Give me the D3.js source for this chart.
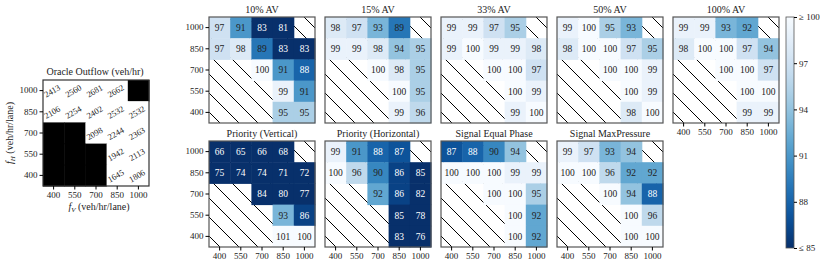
<!DOCTYPE html>
<html lang="en">
<head>
<meta charset="utf-8" />
<script src="https://d3js.org/d3.v7.min.js"></script>
<style>
    body { margin: 0; background: #fff; }
    text { font-family: "Liberation Serif", "DejaVu Serif", serif; fill: #222; }
</style>
</head>
<body>
<div id="chart"></div>
<script>
    // flows (veh/hr/lane)
    const fV = [400, 550, 700, 850, 1000];
    const fH = [1000, 850, 700, 550, 400];

    // oracle outflow, rows are fH (top to bottom), null = no data
    const oracle = [
        [2413, 2560, 2681, 2662, null],
        [2106, 2254, 2402, 2532, 2532],
        [null, null, 2098, 2244, 2363],
        [null, null, null, 1942, 2113],
        [null, null, null, 1645, 1806]
    ];

    // outflow as % of oracle
    const av10 = [[97, 91, 83, 81, null], [97, 98, 89, 83, 83], [null, null, 100, 91, 88], [null, null, null, 99, 91], [null, null, null, 95, 95]];
    const av15 = [[98, 97, 93, 89, null], [99, 99, 98, 94, 95], [null, null, 100, 98, 95], [null, null, null, 100, 95], [null, null, null, 99, 96]];
    const av33 = [[99, 99, 97, 95, null], [99, 100, 99, 99, 98], [null, null, 100, 100, 97], [null, null, null, 100, 99], [null, null, null, 99, 100]];
    const av50 = [[99, 100, 95, 93, null], [98, 100, 100, 97, 95], [null, null, 100, 100, 99], [null, null, null, 100, 99], [null, null, null, 98, 100]];
    const av100 = [[99, 99, 93, 92, null], [98, 100, 100, 97, 94], [null, null, 100, 100, 97], [null, null, null, 100, 100], [null, null, null, 99, 99]];
    const priorityV = [[66, 65, 66, 68, null], [75, 74, 74, 71, 72], [null, null, 84, 80, 77], [null, null, null, 93, 86], [null, null, null, 101, 100]];
    const priorityH = [[99, 91, 88, 87, null], [100, 96, 90, 86, 85], [null, null, 92, 86, 82], [null, null, null, 85, 78], [null, null, null, 83, 76]];
    const signalEqual = [[87, 88, 90, 94, null], [100, 100, 100, 99, 99], [null, null, 100, 100, 95], [null, null, null, 100, 92], [null, null, null, 100, 92]];
    const signalMaxP = [[99, 97, 93, 94, null], [100, 100, 96, 92, 92], [null, null, 100, 94, 88], [null, null, null, 100, 96], [null, null, null, 100, 100]];

    const panelTitles = ["10% AV", "15% AV", "33% AV", "50% AV", "100% AV",
        "Priority (Vertical)", "Priority (Horizontal)", "Signal Equal Phase", "Signal MaxPressure"];
    const panelValues = [av10, av15, av33, av50, av100, priorityV, priorityH, signalEqual, signalMaxP];
    const cbarTicks = [100, 97, 94, 91, 88, 85];

    const W = 830, H = 267;
    const size = 106,
        gridLeft = 209, gridStep = 116,
        rowTops = [17, 141];

    const svg = d3.select("#chart").append("svg")
        .attr("width", W).attr("height", H);

    // hatch for missing cells
    const hs = 19;
    svg.append("defs").append("pattern")
        .attr("id", "hatch")
        .attr("patternUnits", "userSpaceOnUse")
        .attr("width", hs).attr("height", hs)
        .append("path")
        .attr("d", `M-1,-1 L${hs + 1},${hs + 1} M${hs - 1},-1 L${hs + 1},1 M-1,${hs - 1} L1,${hs + 1}`)
        .attr("stroke", "#000").attr("stroke-width", 1);

    const x = d3.scaleBand().domain(fV).range([0, size]);
    const y = d3.scaleBand().domain(fH).range([0, size]);
    const color = v => d3.interpolateBlues(Math.max(0, Math.min(1, (100 - v) / 15)));

    function cellsOf(vals) {
        const out = [];
        vals.forEach((row, i) => row.forEach((v, j) => out.push({ h: fH[i], v: fV[j], val: v })));
        return out;
    }

    function drawAxes(g, showY, showX) {
        if (showY) {
            const ya = g.append("g").call(d3.axisLeft(y).tickSize(3.5).tickPadding(2));
            ya.select(".domain").remove();
            ya.selectAll("text").attr("font-size", 9).attr("font-family", "Liberation Serif");
        }
        if (showX) {
            const xa = g.append("g").attr("transform", `translate(0,${size})`)
                .call(d3.axisBottom(x).tickSize(3.5).tickPadding(2));
            xa.select(".domain").remove();
            xa.selectAll("text").attr("font-size", 9).attr("font-family", "Liberation Serif");
        }
    }

    // percentage panels
    panelValues.forEach((vals, k) => {
        const r = k < 5 ? 0 : 1, c = k < 5 ? k : k - 5;
        const g = svg.append("g")
            .attr("transform", `translate(${gridLeft + c * gridStep},${rowTops[r]})`);

        g.append("rect").attr("width", size).attr("height", size).attr("fill", "url(#hatch)");

        const cells = cellsOf(vals).filter(d => d.val !== null);
        g.selectAll("rect.cell").data(cells).enter().append("rect")
            .attr("class", "cell")
            .attr("x", d => x(d.v)).attr("y", d => y(d.h))
            .attr("width", x.bandwidth() + 0.5).attr("height", y.bandwidth() + 0.5)
            .attr("fill", d => color(d.val));

        g.selectAll("text.val").data(cells).enter().append("text")
            .attr("class", "val")
            .attr("x", d => x(d.v) + x.bandwidth() / 2)
            .attr("y", d => y(d.h) + y.bandwidth() / 2 + 3.3)
            .attr("text-anchor", "middle")
            .attr("font-size", 9.5)
            .style("fill", d => d.val < 89 ? "#fff" : "#222")
            .text(d => d.val);

        g.append("rect").attr("width", size).attr("height", size)
            .attr("fill", "none").attr("stroke", "#555").attr("stroke-width", 1.2);

        g.append("text").attr("x", size / 2).attr("y", -4)
            .attr("text-anchor", "middle").attr("font-size", 10)
            .text(panelTitles[k]);

        drawAxes(g, c === 0, r === 1 || k === 4);
    });

    // oracle panel
    const og = svg.append("g").attr("transform", "translate(43,80)");
    const ocells = cellsOf(oracle);
    og.selectAll("rect.cell").data(ocells).enter().append("rect")
        .attr("x", d => x(d.v)).attr("y", d => y(d.h))
        .attr("width", x.bandwidth() + 0.5).attr("height", y.bandwidth() + 0.5)
        .attr("fill", d => d.val === null ? "#000" : "#fff");
    og.selectAll("text.val").data(ocells.filter(d => d.val !== null)).enter().append("text")
        .attr("transform", d => `translate(${x(d.v) + x.bandwidth() / 2},${y(d.h) + y.bandwidth() / 2 + 3}) rotate(-30)`)
        .attr("text-anchor", "middle")
        .attr("font-size", 8.5)
        .text(d => d.val);
    og.append("rect").attr("width", size).attr("height", size)
        .attr("fill", "none").attr("stroke", "#333").attr("stroke-width", 1.2);
    og.append("text").attr("x", size / 2 - 1).attr("y", -5)
        .attr("text-anchor", "middle").attr("font-size", 10)
        .text("Oracle Outflow (veh/hr)");
    drawAxes(og, true, true);

    const xl = og.append("text").attr("x", size / 2 + 3).attr("y", size + 24)
        .attr("text-anchor", "middle").attr("font-size", 10);
    xl.append("tspan").attr("font-style", "italic").text("f");
    xl.append("tspan").attr("font-size", 7).attr("font-style", "italic").attr("dy", 2).text("V");
    xl.append("tspan").attr("dy", -2).text(" (veh/hr/lane)");

    const yl = svg.append("text")
        .attr("transform", "translate(13,133) rotate(-90)")
        .attr("text-anchor", "middle").attr("font-size", 10);
    yl.append("tspan").attr("font-style", "italic").text("f");
    yl.append("tspan").attr("font-size", 7).attr("font-style", "italic").attr("dy", 2).text("H");
    yl.append("tspan").attr("dy", -2).text(" (veh/hr/lane)");

    // colorbar
    const cbX = 786, cbW = 8, cbTop = 17, cbBot = 248;
    const cy = d3.scaleLinear().domain([100, 85]).range([cbTop, cbBot]);
    const grad = svg.select("defs").append("linearGradient")
        .attr("id", "cbgrad").attr("x1", 0).attr("x2", 0).attr("y1", 0).attr("y2", 1);
    d3.range(0, 1.0001, 0.05).forEach(t => {
        grad.append("stop").attr("offset", t).attr("stop-color", color(100 - 15 * t));
    });
    svg.append("rect").attr("x", cbX).attr("y", cbTop)
        .attr("width", cbW).attr("height", cbBot - cbTop)
        .attr("fill", "url(#cbgrad)").attr("stroke", "#555").attr("stroke-width", 0.8);
    const cba = svg.append("g").attr("transform", `translate(${cbX + cbW},0)`)
        .call(d3.axisRight(cy).tickValues(cbarTicks).tickSize(3).tickPadding(2)
            .tickFormat(d => d === 100 ? "\u2265 100" : d === 85 ? "\u2264 85" : d));
    cba.select(".domain").remove();
    cba.selectAll("text").attr("font-size", 9).attr("font-family", "Liberation Serif");
</script>
</body>
</html>
